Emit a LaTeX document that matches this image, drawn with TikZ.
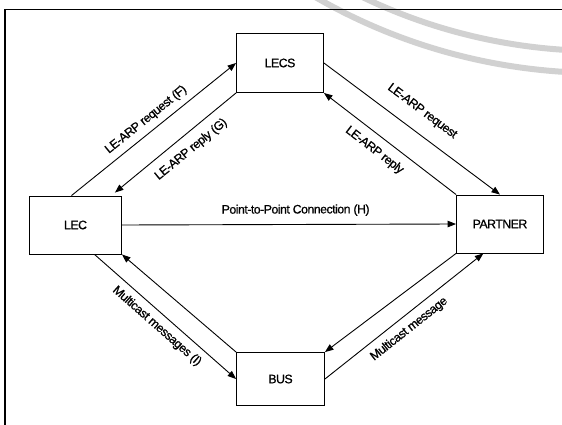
\documentclass[tikz,border=0pt]{standalone}
\usepackage{fontspec}
\setmainfont[LetterSpace=-4,FakeBold=0.8]{Liberation Sans}
\usetikzlibrary{arrows.meta}
\begin{document}
\begin{tikzpicture}[x=1pt,y=-1pt,
  box/.style={draw, line width=0.9pt, inner sep=0pt, font=\fontsize{12.3}{14}\selectfont},
  conn/.style={line width=0.9pt, -{Triangle[length=8.5pt,width=6.5pt]}},
  lbl/.style={font=\fontsize{12.3}{14}\selectfont, inner sep=0pt, sloped},
  wm/.style={draw=black!18, line width=6pt}]
\useasboundingbox (0,0) rectangle (562,425);
% faint watermark arcs of the scan
\begin{scope}
  \clip (0,0) rectangle (562,425);
  \draw[wm] (600,-498) circle (549pt);
  \draw[wm] (600,-498) circle (571pt);
\end{scope}
% frame
\draw[line width=1.1pt] (5,425) -- (5,9.3) -- (562,9.3);
% boxes
\node[box, minimum width=87pt, minimum height=59pt] (lecs) at (280,63) {LECS};
\node[box, minimum width=92pt, minimum height=58pt] (lec) at (75.5,225) {LEC};
\node[box, minimum width=87pt, minimum height=58pt] (partner) at (500,224) {PARTNER};
\node[box, minimum width=88pt, minimum height=53pt] (bus) at (280.5,379) {BUS};
% connectors
\draw[conn] ([xshift=-4pt]lec.north) -- node[lbl, above=6pt, pos=0.5] {LE-ARP request (F)} (lecs.west);
\draw[conn] (lecs.south west) -- node[lbl, below=9pt, pos=0.45] {LE-ARP reply (G)} ([shift={(-7pt,3pt)}]lec.north east);
\draw[conn] (lecs.east) -- node[lbl, above=14pt, pos=0.49] {LE-ARP request} (partner.north);
\draw[conn] (partner.north west) -- node[lbl, below=8.5pt, pos=0.55] {LE-ARP reply} (lecs.south east);
\draw[conn] (lec.east) -- node[lbl, above=8pt, pos=0.52] {Point-to-Point Connection (H)} (partner.west);
\draw[conn] ([xshift=19pt]lec.south) -- node[lbl, below=6.5pt, pos=0.5] {Multicast messages (I)} (bus.west);
\draw[conn] (bus.north west) -- (lec.south east);
\draw[conn] (partner.south west) -- (bus.north east);
\draw[conn] (bus.east) -- node[lbl, below=7pt, pos=0.48] {Multicast message} ([xshift=-16.7pt]partner.south);
\end{tikzpicture}
\end{document}
